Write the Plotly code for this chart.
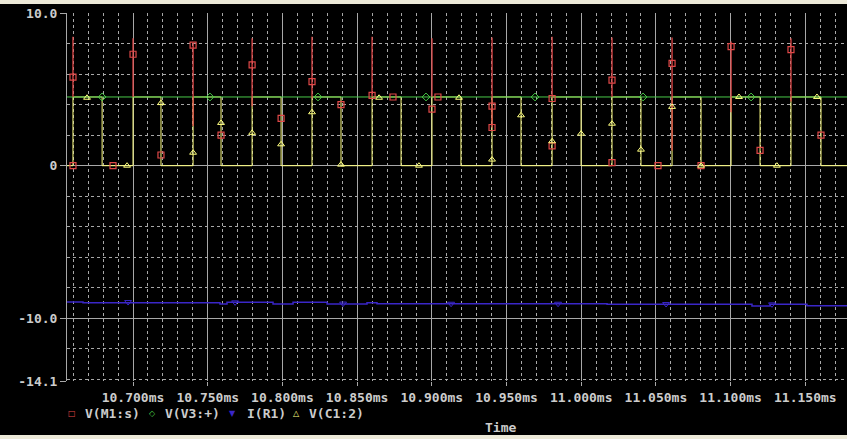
import plotly.graph_objects as go

# ---------------- data ----------------
x_range = [10.6558, 11.1779]
y_range = [-14.1, 10.0]

x_tick_vals = [10.70, 10.75, 10.80, 10.85, 10.90, 10.95, 11.00, 11.05, 11.10, 11.15]
x_tick_labels = ["10.700ms", "10.750ms", "10.800ms", "10.850ms", "10.900ms",
                 "10.950ms", "11.000ms", "11.050ms", "11.100ms", "11.150ms"]
y_tick_vals = [10.0, 0.0, -10.0, -14.1]
y_tick_labels = ["10.0", "0", "-10.0", "-14.1"]

# switching edges (ms)
rise_times = [10.6598, 10.7000, 10.7402, 10.7797, 10.8198, 10.8600, 10.9001,
              10.9403, 10.9805, 11.0206, 11.0608, 11.1003, 11.1404]
fall_times = [10.6793, 10.7187, 10.7589, 10.7991, 10.8392, 10.8794, 10.9195,
              10.9597, 10.9999, 11.0400, 11.0802, 11.1197, 11.1605]
high_level = 4.5
low_level = 0.0

# V(M1:s) spikes at every rising edge
spike_peak = [8.45, 8.35, 8.06, 8.35, 8.45, 8.45, 8.35, 8.40, 8.45, 8.40, 8.40, 8.13, 8.35]
spike_low = [4.5, 4.5, 2.6, 3.9, 4.4, 4.5, 4.5, 2.5, 4.4, 4.5, 1.0, 3.5, 4.2]

# V(V3:+) constant supply
green_t = [10.6558, 11.1779]
green_v = [4.5, 4.5]

# I(R1) (step-like trace)
blue_t = [10.6558, 10.6665, 10.7582, 10.7629, 10.7937, 10.8071, 10.8299,
          10.8566, 10.8633, 11.0173, 11.1143, 11.1264, 11.1511, 11.1779]
blue_v = [-8.93, -8.97, -9.06, -8.95, -9.06, -8.95, -9.06,
          -8.97, -9.04, -9.08, -9.19, -9.08, -9.17, -9.17]

# trace markers as they appear in the picture
red_mk_t = [10.6598, 10.6598, 10.6866, 10.7000, 10.7187, 10.7402, 10.7589, 10.7797,
            10.7991, 10.8198, 10.8392, 10.8600, 10.8740, 10.9001, 10.9041, 10.9403,
            10.9403, 10.9805, 10.9805, 11.0206, 11.0206, 11.0514, 11.0608, 11.0802,
            11.1003, 11.1197, 11.1404, 11.1605]
red_mk_v = [5.8, 0.0, 0.0, 7.3, 0.7, 7.9, 2.0, 6.6,
            3.1, 5.5, 4.0, 4.6, 4.5, 3.7, 4.5, 3.9,
            2.5, 4.4, 1.3, 5.6, 0.2, 0.0, 6.7, 0.0,
            7.8, 1.0, 7.6, 2.0]
green_mk_t = [10.6793, 10.7515, 10.8238, 10.8961, 10.9691, 11.0414, 11.1137]
green_mk_v = [4.5, 4.5, 4.5, 4.5, 4.5, 4.5, 4.5]
blue_mk_t = [10.6967, 10.7683, 10.8406, 10.9129, 10.9845, 11.0568, 11.1277]
blue_mk_v = [-8.93, -8.95, -9.03, -9.04, -9.04, -9.06, -9.08]
yellow_mk_t = [10.6692, 10.6960, 10.7187, 10.7402, 10.7589, 10.7797, 10.7991, 10.8198,
               10.8392, 10.8647, 10.8914, 10.9182, 10.9403, 10.9597, 10.9805, 10.9999,
               11.0206, 11.0400, 11.0608, 11.0802, 11.1056, 11.1310, 11.1578]
yellow_mk_v = [4.45, 0.0, 4.1, 0.85, 2.8, 2.15, 1.4, 3.5,
               0.07, 4.45, 0.0, 4.45, 0.4, 3.3, 1.6, 2.1,
               2.75, 1.05, 3.85, 0.0, 4.5, 0.0, 4.5]

legend_names = ["V(M1:s)", "V(V3:+)", "I(R1)", "V(C1:2)"]

# ---------------- styles ----------------
RED = "#e04848"
GREEN = "#48c848"
BLUE = "#3a26c8"
YELLOW = "#ffff80"
GRID = "#a8a8a8"
TXT = "#cccccc"
FONT = "DejaVu Sans Mono"

# ---------------- assemble paths from the edge lists ----------------
yel_x, yel_y = [x_range[0]], [low_level]
spk_x, spk_y = [], []
for r, f, pk, lo in zip(rise_times, fall_times, spike_peak, spike_low):
    yel_x += [r, r, f, f]
    yel_y += [low_level, high_level, high_level, low_level]
    spk_x += [r, r, None]
    spk_y += [pk, min(lo, high_level), None]
yel_x.append(x_range[1]); yel_y.append(low_level)

fig = go.Figure()
fig.add_trace(go.Scatter(x=yel_x, y=yel_y, mode="lines",
                         line=dict(color=YELLOW, width=1), hoverinfo="skip"))
fig.add_trace(go.Scatter(x=green_t, y=green_v, mode="lines",
                         line=dict(color=GREEN, width=1), hoverinfo="skip"))
fig.add_trace(go.Scatter(x=spk_x, y=spk_y, mode="lines",
                         line=dict(color=RED, width=1.3), hoverinfo="skip"))
fig.add_trace(go.Scatter(x=blue_t, y=blue_v, mode="lines", line_shape="hv",
                         line=dict(color=BLUE, width=1.5), hoverinfo="skip"))

fig.add_trace(go.Scatter(x=red_mk_t, y=red_mk_v, mode="markers", hoverinfo="skip",
                         marker=dict(symbol="square-open", color=RED, size=6, line=dict(width=1.2))))
fig.add_trace(go.Scatter(x=green_mk_t, y=green_mk_v, mode="markers", hoverinfo="skip",
                         marker=dict(symbol="diamond-open", color=GREEN, size=6, line=dict(width=1))))
fig.add_trace(go.Scatter(x=blue_mk_t, y=blue_mk_v, mode="markers", hoverinfo="skip",
                         marker=dict(symbol="triangle-down-open", color=BLUE, size=6, line=dict(width=1))))
fig.add_trace(go.Scatter(x=yellow_mk_t, y=yellow_mk_v, mode="markers", hoverinfo="skip",
                         marker=dict(symbol="triangle-up-open", color=YELLOW, size=6, line=dict(width=1))))

fig.update_layout(
    width=847, height=439,
    margin=dict(l=67, r=0, t=13, b=58),
    paper_bgcolor="black", plot_bgcolor="black",
    showlegend=False,
    hovermode=False,
    font=dict(family=FONT, size=13, color=TXT),
    xaxis=dict(range=x_range, tickmode="array", tickvals=x_tick_vals, ticktext=x_tick_labels,
               showgrid=True, gridcolor=GRID, gridwidth=1, zeroline=False,
               ticks="outside", ticklen=4, tickcolor=GRID,
               tickfont=dict(family=FONT, size=13, color=TXT, weight="bold"),
               minor=dict(tick0=10.70, dtick=0.01, showgrid=True, gridcolor=GRID,
                          griddash="3px,3px", gridwidth=1, ticks=""),
               showline=False),
    yaxis=dict(range=y_range, tickmode="array", tickvals=y_tick_vals, ticktext=y_tick_labels,
               showgrid=True, gridcolor=GRID, gridwidth=1, zeroline=False,
               ticks="outside", ticklen=6, tickcolor=GRID,
               tickfont=dict(family=FONT, size=13, color=TXT, weight="bold"),
               minor=dict(tick0=0, dtick=2, showgrid=True, gridcolor=GRID,
                          griddash="3px,3px", gridwidth=1, ticks=""),
               showline=True, linecolor=GRID, linewidth=1),
)

# legend row (symbols + names)
legend_sym = ["\u25a1", "\u25c7", "\u25bc", "\u25b3"]
legend_col = [RED, GREEN, BLUE, YELLOW]
sym_px = [72, 152, 232, 296]
name_px = [83, 163, 245, 307]
for s, c, n, sp, npx in zip(legend_sym, legend_col, legend_names, sym_px, name_px):
    fig.add_annotation(x=(sp - 67) / 780, y=(381 - 413) / 368, xref="paper", yref="paper",
                       text=s, showarrow=False, xanchor="center", yanchor="middle",
                       font=dict(family="DejaVu Sans", size=8, color=c))
    fig.add_annotation(x=(npx - 67) / 780, y=(381 - 413) / 368, xref="paper", yref="paper",
                       text=n, showarrow=False, xanchor="left", yanchor="middle",
                       font=dict(family=FONT, size=13, color=TXT, weight="bold"))
fig.add_annotation(x=(500 - 67) / 780, y=(381 - 427) / 368, xref="paper", yref="paper",
                   text="Time", showarrow=False, xanchor="center", yanchor="middle",
                   font=dict(family=FONT, size=13, color=TXT, weight="bold"))

# window chrome strips
fig.add_shape(type="rect", xref="paper", yref="paper", x0=-0.1, x1=1.01,
              y0=(381 - 4) / 368, y1=(381 + 2) / 368, fillcolor="#ece9d8", line_width=0)
fig.add_shape(type="rect", xref="paper", yref="paper", x0=-0.1, x1=1.01,
              y0=(381 - 441) / 368, y1=(381 - 435) / 368, fillcolor="#ece9d8", line_width=0)

fig.write_html("out.html",
               config={"displayModeBar": False, "staticPlot": True},
               post_script="document.body.style.margin='0px';"
                           "document.body.style.background='black';"
                           "document.body.style.overflow='hidden';")
